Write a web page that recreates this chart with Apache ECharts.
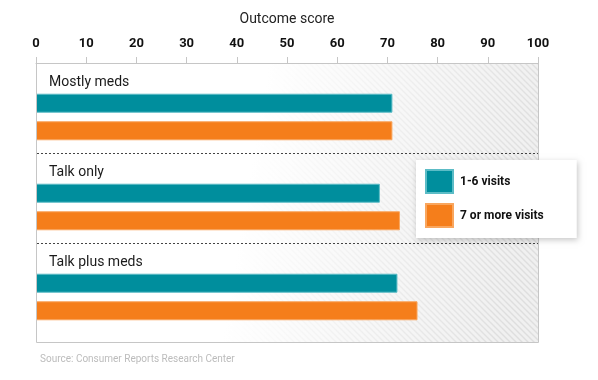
<!DOCTYPE html>
<html>
<head>
<meta charset="utf-8">
<script src="https://cdn.jsdelivr.net/npm/echarts@6/dist/echarts.min.js"></script>
<style>html,body{margin:0;padding:0;background:#fff;}#c{width:598px;height:380px;}</style>
</head>
<body>
<div id="c"></div>
<script>
const categories = ['Mostly meds', 'Talk only', 'Talk plus meds'];
const seriesNames = ['1-6 visits', '7 or more visits'];
const visits1to6 = [71, 68.5, 72];
const visits7plus = [71, 72.5, 76];
const axisTitle = 'Outcome score';
const sourceText = 'Source: Consumer Reports Research Center';

const FONT = "'Roboto', 'Liberation Sans', sans-serif";
const TEAL = '#008e9d';
const ORANGE = '#f57e1b';

// layout
const GL = 36, GR = 60, GT = 72, GH = 270, FRAME_TOP = 63;
const W = 598;
const plotW = W - GL - GR;

// hatch pattern
const pc = document.createElement('canvas');
pc.width = 6; pc.height = 6;
const pctx = pc.getContext('2d');
pctx.fillStyle = '#f0f0f0';
pctx.fillRect(0, 0, 6, 6);
pctx.strokeStyle = '#dedede';
pctx.lineWidth = 1.4;
pctx.beginPath();
pctx.moveTo(-1, -1); pctx.lineTo(7, 7);
pctx.moveTo(-1, 5); pctx.lineTo(1, 7);
pctx.moveTo(5, -1); pctx.lineTo(7, 1);
pctx.stroke();

const chart = echarts.init(document.getElementById('c'), null, {renderer: 'canvas'});
const bandH = GH / categories.length;
const sepOffset = GT - FRAME_TOP;

const graphics = [
  {type: 'rect', z: -10, shape: {x: GL + 0.5, y: FRAME_TOP, width: plotW, height: GT + GH - FRAME_TOP},
   style: {fill: {image: pc, repeat: 'repeat'}}, silent: true},
  {type: 'rect', z: -9, shape: {x: GL + 0.5, y: FRAME_TOP, width: plotW, height: GT + GH - FRAME_TOP},
   style: {fill: new echarts.graphic.LinearGradient(0, 0, 1, 0.3, [
     {offset: 0, color: 'rgba(255,255,255,1)'},
     {offset: 0.45, color: 'rgba(255,255,255,1)'},
     {offset: 0.75, color: 'rgba(255,255,255,0.45)'},
     {offset: 1, color: 'rgba(255,255,255,0.0)'}
   ])}, silent: true},
  {type: 'polyline', z: 5, shape: {points: [[GL + 0.5, FRAME_TOP], [GL + 0.5, GT + GH + 0.5], [GL + plotW + 0.5, GT + GH + 0.5], [GL + plotW + 0.5, FRAME_TOP]]},
   style: {stroke: '#c6c6c6', lineWidth: 1, fill: null}, silent: true}
];
for (let i = 1; i < categories.length; i++) {
  const y = Math.round(GT + bandH * i - sepOffset) + 0.5;
  graphics.push({type: 'line', z: 5, shape: {x1: GL + 1, y1: y, x2: GL + plotW, y2: y},
    style: {stroke: '#444', lineWidth: 1, lineDash: [2, 2]}, silent: true});
}

chart.setOption({
  animation: false,
  backgroundColor: '#fff',
  textStyle: {fontFamily: FONT},
  title: {
    text: sourceText, left: GL - 1, top: 349,
    textStyle: {fontSize: 10, fontWeight: 'normal', color: '#bcbcbc', fontFamily: FONT}
  },
  legend: {
    orient: 'vertical', left: 416, top: 160,
    data: seriesNames,
    icon: 'rect', itemWidth: 27, itemHeight: 23, itemGap: 9,
    padding: [9, 33, 10, 9],
    backgroundColor: '#fff',
    shadowBlur: 6, shadowColor: 'rgba(0,0,0,0.22)', shadowOffsetX: 1, shadowOffsetY: 2,
    textStyle: {fontSize: 12, fontWeight: 'bold', color: '#111', fontFamily: FONT, padding: [0, 0, 0, 2]},
    z: 20
  },
  grid: {left: GL, right: GR, top: GT, height: GH, containLabel: false},
  xAxis: {
    type: 'value', position: 'top', offset: sepOffset,
    min: 0, max: 100, interval: 10,
    name: axisTitle, nameLocation: 'middle', nameGap: 37,
    nameTextStyle: {fontSize: 14, color: '#222', fontFamily: FONT},
    axisLine: {show: true, lineStyle: {color: '#c6c6c6', width: 1}},
    axisTick: {show: true, length: 6, lineStyle: {color: '#c6c6c6'}},
    axisLabel: {fontSize: 13, fontWeight: 'bold', color: '#111', margin: 13, fontFamily: FONT},
    splitLine: {show: false}
  },
  yAxis: {
    type: 'category', inverse: true, data: categories,
    axisLine: {show: false}, axisTick: {show: false},
    axisLabel: {inside: true, margin: 13, fontSize: 14, color: '#1a1a1a', fontFamily: FONT,
      lineHeight: 14, verticalAlign: 'middle',
      formatter: function (v) { return v + '\n\n\n\n\n'; }},
    splitLine: {show: false}
  },
  graphic: graphics,
  series: [
    {name: seriesNames[0], type: 'bar', data: visits1to6, barWidth: 19, barGap: '45%',
     itemStyle: {color: TEAL, borderColor: '#5cbcc6', borderWidth: 1}, z: 3},
    {name: seriesNames[1], type: 'bar', data: visits7plus, barWidth: 19, barGap: '45%',
     itemStyle: {color: ORANGE, borderColor: '#f9a65e', borderWidth: 1}, z: 3}
  ]
});
</script>
</body>
</html>
